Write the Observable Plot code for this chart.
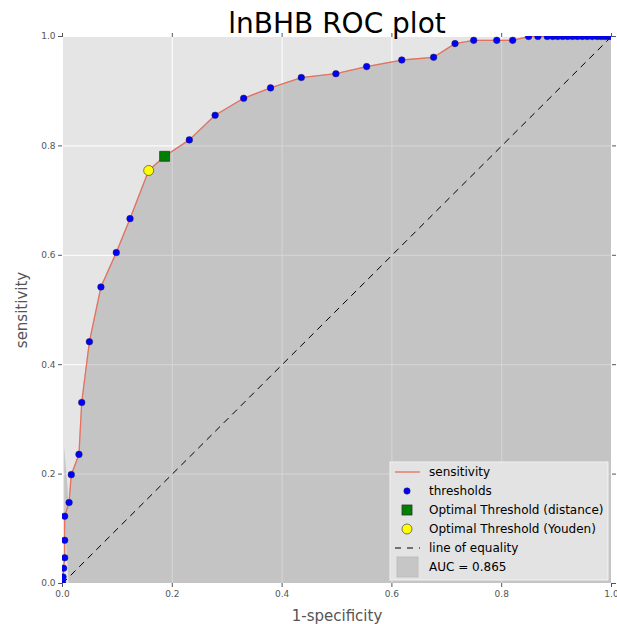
<!DOCTYPE html>
<html>
<head>
<meta charset="utf-8">
<script src="https://cdn.jsdelivr.net/npm/d3@7"></script>
<script src="https://cdn.jsdelivr.net/npm/@observablehq/plot@0.6"></script>
<style>
  html, body { margin: 0; padding: 0; background: #ffffff; }
  #chart { position: relative; width: 617px; height: 624px; }
  svg { font-family: "DejaVu Sans", sans-serif; }
</style>
</head>
<body>
<div id="chart"></div>
<script>
// ROC curve of lnBHB: false positive rate (1-specificity) vs true positive rate
const fpr = [0, 0, 0.001, 0.002, 0.004, 0.004, 0.004, 0.012, 0.016, 0.030, 0.035, 0.049,
  0.070, 0.098, 0.123, 0.157, 0.186, 0.231, 0.278, 0.330, 0.379, 0.435, 0.498, 0.554,
  0.618, 0.676, 0.715, 0.749, 0.791, 0.820, 0.849, 0.866, 0.883, 0.893, 0.902, 0.911,
  0.920, 0.929, 0.938, 0.947, 0.956, 0.965, 0.974, 0.981, 0.988, 0.994, 1.0];
const tpr = [0, 0.005, 0.012, 0.028, 0.047, 0.079, 0.123, 0.148, 0.199, 0.236, 0.331, 0.442,
  0.542, 0.605, 0.667, 0.755, 0.781, 0.811, 0.856, 0.887, 0.906, 0.925, 0.932, 0.945,
  0.957, 0.962, 0.987, 0.993, 0.993, 0.993, 1, 1, 1, 1, 1, 1,
  1, 1, 1, 1, 1, 1, 1, 1, 1, 1, 1];

// optimal cut-offs
const optDistance = {fpr: 0.186, tpr: 0.781};
const optYouden = {fpr: 0.157, tpr: 0.755};

// diagonal reference
const equality = [0, 1];

const ticks = [0, 0.2, 0.4, 0.6, 0.8, 1.0];
const aucValue = 0.865;

const roc = fpr.map((x, i) => ({x, y: tpr[i]}));
const diag = equality.map(v => ({x: v, y: v}));

const lineColor = "#E5705E";
const areaFill = "#808080";
const textGray = "#555555";
const noLabel = () => "";

const chart = Plot.plot({
  width: 617,
  height: 624,
  marginLeft: 62,
  marginRight: 6,
  marginTop: 36,
  marginBottom: 41,
  style: {fontFamily: "DejaVu Sans, sans-serif", fontSize: "9px", color: textGray, background: "white", overflow: "visible"},
  x: {domain: [0, 1]},
  y: {domain: [0, 1]},
  marks: [
    Plot.frame({fill: "#E5E5E5", stroke: null}),
    Plot.gridX(ticks, {stroke: "white", strokeOpacity: 1, strokeWidth: 1}),
    Plot.gridY(ticks, {stroke: "white", strokeOpacity: 1, strokeWidth: 1}),
    Plot.areaY(roc, {x: "x", y: "y", fill: areaFill, fillOpacity: 0.32}),
    Plot.line(diag, {x: "x", y: "y", stroke: "black", strokeWidth: 1, strokeDasharray: "6,6"}),
    Plot.line(roc, {x: "x", y: "y", stroke: lineColor, strokeWidth: 1.3, clip: true}),
    Plot.dot(roc, {x: "x", y: "y", r: 3.3, fill: "#0000FF", stroke: "#222244", strokeWidth: 0.5, clip: true}),
    Plot.dot([optDistance], {x: "fpr", y: "tpr", symbol: "square", r: 5.6, fill: "#008000", stroke: "#333333", strokeWidth: 0.8}),
    Plot.dot([optYouden], {x: "fpr", y: "tpr", r: 5, fill: "#FFFF00", stroke: "#555555", strokeWidth: 0.8}),
    Plot.axisX(ticks, {anchor: "bottom", tickSize: 4, tickPadding: 3, stroke: textGray, fill: textGray,
      tickFormat: d3.format(".1f"), label: "1-specificity", labelAnchor: "center", labelArrow: "none",
      labelOffset: 37, fontSize: 9}),
    Plot.axisX(ticks, {anchor: "top", tickSize: 4, stroke: textGray, tickFormat: noLabel, label: null}),
    Plot.axisY(ticks, {anchor: "left", tickSize: 4, tickPadding: 3, stroke: textGray, fill: textGray,
      tickFormat: d3.format(".1f"), label: "sensitivity", labelAnchor: "center", labelArrow: "none",
      labelOffset: 46, fontSize: 9}),
    Plot.axisY(ticks, {anchor: "right", tickSize: 4, stroke: textGray, tickFormat: noLabel, label: null}),
    Plot.text(["lnBHB ROC plot"], {frameAnchor: "top", lineAnchor: "bottom", dy: -4,
      fontSize: 28, fill: "black", stroke: null})
  ]
});

document.getElementById("chart").appendChild(chart);

// axis label sizing
const svg = d3.select(chart);
svg.selectAll("[aria-label='x-axis label'] text, [aria-label='y-axis label'] text")
  .style("font-size", "15px").attr("fill", textGray);

// legend box in the lower-right corner of the plot area
const lg = svg.append("g").attr("class", "legend")
  .attr("text-anchor", "start")
  .style("font-family", "DejaVu Sans, sans-serif");
const lx = 390, ly = 462, rowH = 19;
lg.append("rect").attr("x", lx).attr("y", ly).attr("width", 218).attr("height", 118)
  .attr("fill", "#E3E3E3").attr("stroke", "#F2F2F2").attr("stroke-width", 1);

const items = [
  {label: "sensitivity", kind: "line"},
  {label: "thresholds", kind: "dot"},
  {label: "Optimal Threshold (distance)", kind: "square"},
  {label: "Optimal Threshold (Youden)", kind: "circle"},
  {label: "line of equality", kind: "dash"},
  {label: `AUC = ${aucValue}`, kind: "patch"}
];
items.forEach((it, i) => {
  const cy = ly + 10 + i * rowH;
  const cx = 407;
  if (it.kind === "line") {
    lg.append("line").attr("x1", 395).attr("x2", 420).attr("y1", cy).attr("y2", cy)
      .attr("stroke", lineColor).attr("stroke-width", 1.3);
  } else if (it.kind === "dot") {
    lg.append("circle").attr("cx", cx).attr("cy", cy).attr("r", 3.2)
      .attr("fill", "#0000FF").attr("stroke", "#222244").attr("stroke-width", 0.5);
  } else if (it.kind === "square") {
    lg.append("rect").attr("x", cx - 5).attr("y", cy - 5).attr("width", 10).attr("height", 10)
      .attr("fill", "#008000").attr("stroke", "#333333").attr("stroke-width", 0.8);
  } else if (it.kind === "circle") {
    lg.append("circle").attr("cx", cx).attr("cy", cy).attr("r", 5)
      .attr("fill", "#FFFF00").attr("stroke", "#555555").attr("stroke-width", 0.8);
  } else if (it.kind === "dash") {
    lg.append("line").attr("x1", 395).attr("x2", 420).attr("y1", cy).attr("y2", cy)
      .attr("stroke", "black").attr("stroke-width", 1).attr("stroke-dasharray", "6,6");
  } else {
    lg.append("rect").attr("x", 397).attr("y", cy - 10).attr("width", 21).attr("height", 20)
      .attr("fill", "#C6C6C6").attr("stroke", "#B8B8B8").attr("stroke-width", 0.8);
  }
  lg.append("text").attr("x", 429).attr("y", cy).attr("dy", "0.35em")
    .attr("text-anchor", "start")
    .attr("font-size", 12).attr("fill", "black").text(it.label);
});
</script>
</body>
</html>
